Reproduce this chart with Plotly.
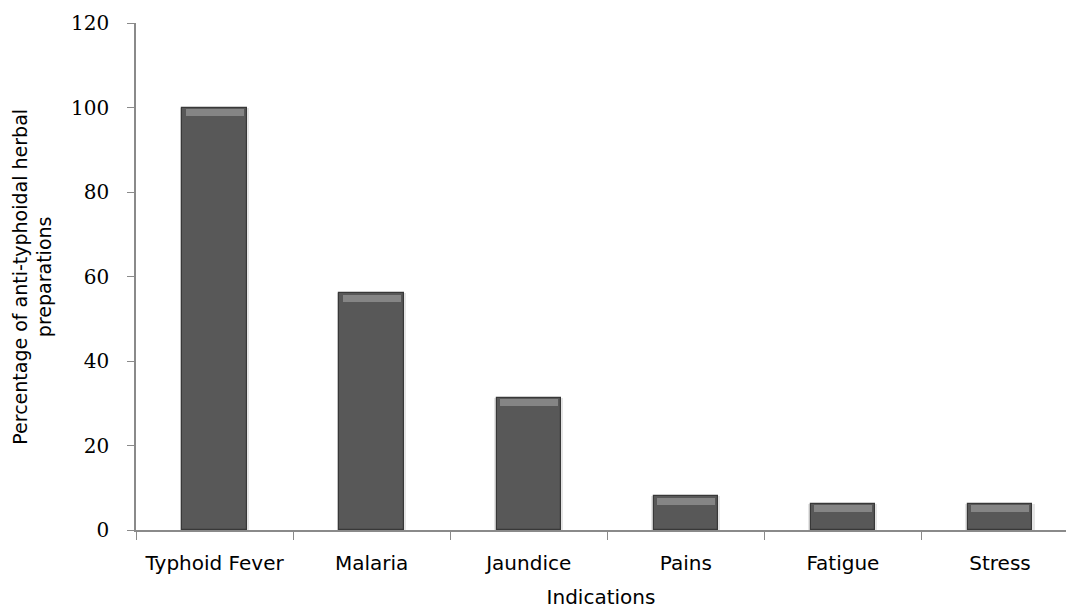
import plotly.graph_objects as go

categories = ["Typhoid Fever", "Malaria", "Jaundice", "Pains", "Fatigue", "Stress"]
percentages = [100, 56, 31.3, 8, 6.2, 6.2]
y_ticks = [0, 20, 40, 60, 80, 100, 120]

bar_width = 0.41
bevel = 1.6  # height of the lighter cap on each bar, in axis units

fig = go.Figure()

# shadow behind each bar
fig.add_trace(go.Bar(
    x=categories, y=percentages, width=bar_width + 0.03,
    marker=dict(color="rgba(0,0,0,0.10)", line=dict(width=0)),
    hoverinfo="skip", showlegend=False,
))

# main bars
fig.add_trace(go.Bar(
    x=categories, y=percentages, width=bar_width,
    marker=dict(color="#585858", line=dict(color="#383838", width=1.2)),
    showlegend=False,
))

# lighter cap at the top of every bar
fig.add_trace(go.Bar(
    x=categories, y=[bevel] * len(percentages),
    base=[v - bevel - 0.4 for v in percentages], width=bar_width * 0.9,
    marker=dict(color="#858585", line=dict(width=0)),
    hoverinfo="skip", showlegend=False,
))

sans = "DejaVu Sans, Verdana, sans-serif"

fig.update_layout(
    width=1066, height=613,
    margin=dict(l=136, r=0, t=23, b=83),
    paper_bgcolor="white", plot_bgcolor="white",
    barmode="overlay",
    bargap=0,
    xaxis=dict(
        type="category",
        range=[-0.5, 5.42],
        showline=True, linecolor="#8a8a8a", linewidth=2,
        ticks="outside", tickson="boundaries", ticklen=8, tickcolor="#8a8a8a",
        tickfont=dict(family=sans, size=20, color="black"),
        ticklabelstandoff=14,
        showgrid=False, zeroline=False,
        title=dict(text="Indications", font=dict(family=sans, size=20, color="black"), standoff=16),
    ),
    yaxis=dict(
        range=[0, 120],
        tickvals=y_ticks,
        showline=True, linecolor="#8a8a8a", linewidth=1.5,
        ticks="outside", ticklen=7, tickcolor="#8a8a8a",
        tickfont=dict(family="DejaVu Serif, Liberation Serif, serif", size=20, color="black"),
        ticklabelstandoff=14,
        showgrid=False, zeroline=False,
    ),
    annotations=[dict(
        text="Percentage of anti-typhoidal herbal<br>preparations",
        xref="paper", yref="paper", x=-0.139, y=0.5,
        xanchor="left", yanchor="middle", textangle=-90,
        showarrow=False, align="center",
        font=dict(family=sans, size=19, color="black"),
    )],
)

fig.write_html("out.html")
